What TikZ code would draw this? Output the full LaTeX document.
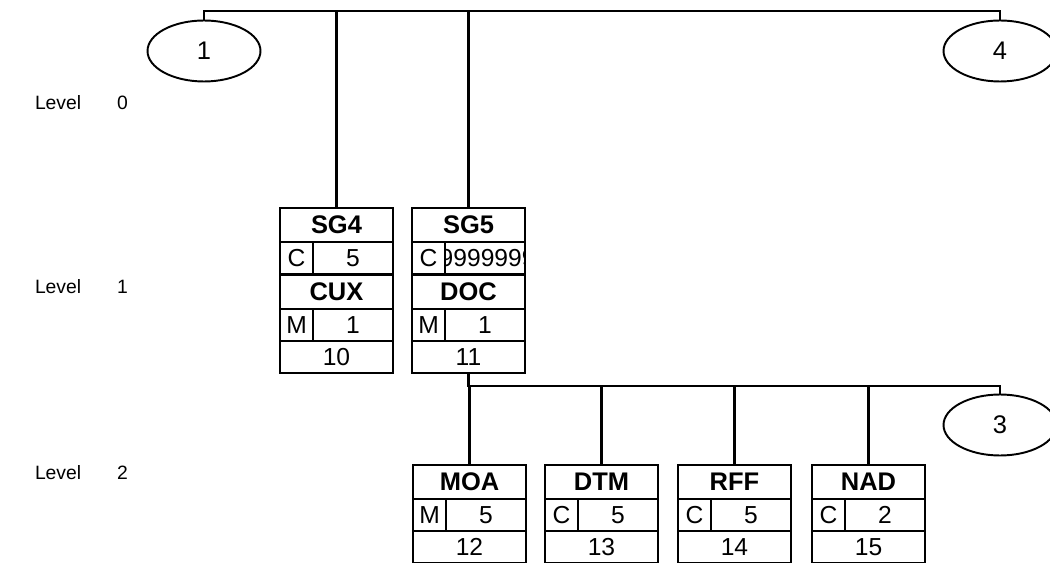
\documentclass[tikz,border=0pt]{standalone}
\usepackage{fontspec}
\setmainfont{Liberation Sans}
\usepackage{tikz}
\usetikzlibrary{shapes.geometric}
\usetikzlibrary{positioning}

\begin{document}
\begin{tikzpicture}
  [x=0.02cm,y=-0.02cm,
  every node/.style={inner sep=0pt,outer sep=0pt,font=\fontsize{14}{14}\selectfont},
  cell/.style={draw,rectangle,line width=1.6pt,anchor=north west},
  segtitle/.style={cell,minimum width=2.26cm,minimum height=0.68cm,font=\fontsize{14.5}{14.5}\selectfont\bfseries},
  flagcell/.style={cell,minimum width=0.66cm,minimum height=0.64cm},
  repcell/.style={cell,anchor=north east,minimum width=1.6cm,minimum height=0.64cm},
  poscell/.style={cell,minimum width=2.26cm,minimum height=0.64cm},
  grp/.style={ellipse,draw,line width=1.1pt,minimum width=2.26cm,minimum height=1.22cm,font=\fontsize{14.5}{14.5}\selectfont},
  lvl/.style={anchor=west,font=\fontsize{11}{11}\selectfont},
  link/.style={line width=1.6pt}]

\useasboundingbox (0,0) rectangle (1050,563);

% levels
\foreach \i/\y in {0/103,1/287,2/473} {
  \node[lvl] (lv\i) at (35,\y) {Level};
  \node[lvl] (lv\i n) at (117,\y) {\i};
}

% groups
\node[grp] (g1) at (204,51) {1};
\node[grp] (g4) at (1000,51) {4};
\node[grp] (g3) at (1000,425) {3};
\coordinate (bar0) at (1000,11);
\coordinate (bar3) at (1000,386);

% level 1
\node[segtitle] (sg4) at (280,208) {SG4};
\node[flagcell] (sg4f) at (sg4.south west) {C};
\node[repcell] (sg4r) at (sg4.south east) {5};
\node[segtitle] (cux) at (280,275) {CUX};
\node[flagcell] (cuxf) at (cux.south west) {M};
\node[repcell] (cuxr) at (cux.south east) {1};
\node[poscell] (cuxp) at (cuxf.south west) {10};

\node[segtitle] (sg5) at (412,208) {SG5};
\node[flagcell] (sg5f) at (sg5.south west) {C};
\node[repcell,path picture={\node[anchor=center] at ([xshift=1.5pt]path picture bounding box.center) {9999999};}] (sg5r) at (sg5.south east) {};
\node[segtitle] (doc) at (412,275) {DOC};
\node[flagcell] (docf) at (doc.south west) {M};
\node[repcell] (docr) at (doc.south east) {1};
\node[poscell] (docp) at (docf.south west) {11};

\draw[link] (g1.north) -- (g1.north |- bar0) -- (bar0) -- (g4.north);
\draw[link] (sg4.north) -- (sg4.north |- bar0);
\draw[link] (sg5.north) -- (sg5.north |- bar0);
\draw[link] (docp.south) -- (docp.south |- bar3) -- (bar3) -- (g3.north);

% level 2
\foreach \nm/\t/\x/\f/\r/\p in {moa/MOA/413/M/5/12,dtm/DTM/545/C/5/13,rff/RFF/678/C/5/14,nad/NAD/812/C/2/15} {
  \node[segtitle] (\nm) at (\x,465) {\t};
  \node[flagcell] (\nm f) at (\nm.south west) {\f};
  \node[repcell] (\nm r) at (\nm.south east) {\r};
  \node[poscell] (\nm p) at (\nm f.south west) {\p};
  \draw[link] (\nm.north) -- (\nm.north |- bar3);
}
\end{tikzpicture}
\end{document}
